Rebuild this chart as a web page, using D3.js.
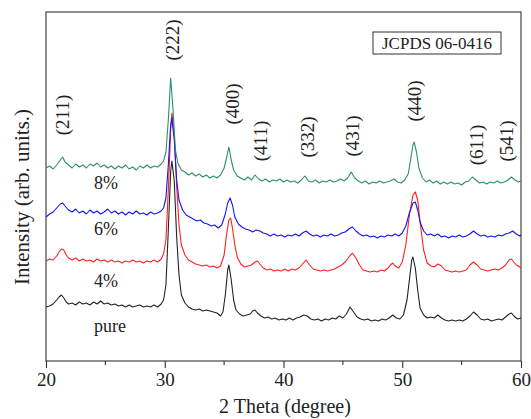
<!DOCTYPE html>
<html>
<head>
<meta charset="utf-8">
<script src="https://cdn.jsdelivr.net/npm/d3@7"></script>
<style>
  body { margin: 0; background: #fff; }
  svg { display: block; font-family: "Liberation Serif", "Times New Roman", serif; }
</style>
</head>
<body>
<div id="chart"></div>
<script>
// XRD patterns, [2theta, intensity (a.u., offset already applied)]
const pure = [[20.0,54],[20.3,55],[20.6,57],[20.9,61],[21.1,64],[21.3,66],[21.5,63],[21.7,59],[21.9,57],[22.2,58],[22.5,56],[22.8,59],[23.1,57],[23.4,58],[23.7,56],[24.0,59],[24.3,57],[24.6,60],[24.9,57],[25.2,58],[25.5,56],[25.8,57],[26.1,55],[26.4,56],[26.7,54],[27.0,56],[27.3,54],[27.6,55],[27.9,56],[28.2,54],[28.5,55],[28.8,54],[29.1,56],[29.4,54],[29.7,57],[29.9,61],[30.1,76],[30.3,131],[30.5,190],[30.6,200],[30.8,180],[31.0,125],[31.2,86],[31.4,66],[31.7,58],[32.0,54],[32.3,52],[32.6,51],[32.9,52],[33.2,50],[33.5,51],[33.8,50],[34.1,49],[34.4,48],[34.7,45],[34.9,49],[35.1,66],[35.3,91],[35.4,96],[35.6,81],[35.8,61],[36.0,51],[36.3,47],[36.6,45],[36.9,46],[37.2,47],[37.4,50],[37.6,51],[37.8,48],[38.1,45],[38.4,43],[38.7,44],[39.0,42],[39.3,43],[39.6,41],[39.9,42],[40.2,41],[40.5,43],[40.8,41],[41.1,43],[41.4,44],[41.7,46],[42.0,45],[42.3,42],[42.6,41],[42.9,42],[43.2,40],[43.5,42],[43.8,41],[44.1,43],[44.4,42],[44.7,45],[45.0,43],[45.3,47],[45.6,54],[45.9,49],[46.2,44],[46.5,42],[46.8,41],[47.1,42],[47.4,40],[47.7,41],[48.0,40],[48.3,42],[48.6,41],[48.9,43],[49.2,46],[49.5,43],[49.8,42],[50.1,46],[50.4,61],[50.6,81],[50.8,101],[50.9,104],[51.1,93],[51.3,71],[51.5,53],[51.8,46],[52.1,43],[52.4,44],[52.7,43],[53.0,46],[53.3,43],[53.6,41],[53.9,40],[54.2,41],[54.5,40],[54.8,41],[55.1,40],[55.4,42],[55.7,45],[56.0,49],[56.3,46],[56.6,42],[56.9,41],[57.2,42],[57.5,40],[57.8,41],[58.1,42],[58.4,41],[58.7,44],[59.0,47],[59.2,48],[59.4,45],[59.7,42],[60.0,43]];

const dop4 = [[20.0,100],[20.3,102],[20.6,101],[20.9,105],[21.1,109],[21.3,112],[21.5,111],[21.7,106],[21.9,103],[22.2,101],[22.5,103],[22.8,100],[23.1,102],[23.4,100],[23.7,101],[24.0,99],[24.3,102],[24.6,100],[24.9,101],[25.2,99],[25.5,101],[25.8,99],[26.1,100],[26.4,98],[26.7,100],[27.0,99],[27.3,101],[27.6,99],[27.9,100],[28.2,98],[28.5,100],[28.8,99],[29.1,101],[29.4,99],[29.7,102],[29.9,107],[30.1,121],[30.3,171],[30.5,231],[30.6,248],[30.8,226],[31.0,176],[31.2,136],[31.4,116],[31.7,106],[32.0,101],[32.3,99],[32.6,97],[32.9,96],[33.2,95],[33.5,96],[33.8,94],[34.1,95],[34.4,93],[34.7,95],[35.0,106],[35.2,126],[35.4,141],[35.55,143],[35.7,133],[35.9,116],[36.1,104],[36.4,97],[36.7,94],[37.0,95],[37.3,96],[37.6,99],[37.8,100],[38.0,97],[38.3,93],[38.6,91],[38.9,92],[39.2,90],[39.5,91],[39.8,90],[40.1,92],[40.4,90],[40.7,92],[41.0,91],[41.3,93],[41.6,97],[41.9,101],[42.2,96],[42.5,92],[42.8,91],[43.1,90],[43.4,91],[43.7,90],[44.0,91],[44.3,92],[44.6,94],[44.9,96],[45.2,99],[45.5,104],[45.8,108],[46.1,103],[46.4,96],[46.7,91],[47.0,90],[47.3,89],[47.6,90],[47.9,89],[48.2,91],[48.5,90],[48.8,93],[49.0,96],[49.2,98],[49.4,95],[49.7,93],[50.0,99],[50.3,116],[50.6,146],[50.9,166],[51.1,169],[51.3,161],[51.5,139],[51.8,111],[52.1,98],[52.4,95],[52.7,94],[53.0,97],[53.3,95],[53.6,91],[53.9,90],[54.2,89],[54.5,90],[54.8,89],[55.1,90],[55.4,91],[55.7,96],[56.0,99],[56.3,96],[56.6,92],[56.9,91],[57.2,90],[57.5,91],[57.8,92],[58.1,91],[58.4,93],[58.7,96],[59.0,101],[59.2,102],[59.4,99],[59.6,96],[59.8,95],[60.0,93]];

const dop6 = [[20.0,144],[20.3,147],[20.6,149],[20.9,153],[21.2,157],[21.4,158],[21.6,155],[21.9,151],[22.2,149],[22.5,152],[22.8,148],[23.1,150],[23.4,147],[23.7,151],[24.0,148],[24.3,150],[24.6,147],[24.9,149],[25.2,152],[25.5,148],[25.8,150],[26.1,147],[26.4,149],[26.7,146],[27.0,149],[27.3,147],[27.6,150],[27.9,147],[28.2,148],[28.5,146],[28.8,149],[29.1,147],[29.4,148],[29.7,150],[29.9,153],[30.1,163],[30.3,196],[30.5,236],[30.6,243],[30.8,221],[31.0,181],[31.2,161],[31.5,151],[31.8,146],[32.1,144],[32.4,142],[32.7,140],[33.0,141],[33.3,138],[33.6,137],[33.9,135],[34.2,136],[34.5,133],[34.8,136],[35.1,147],[35.3,158],[35.5,163],[35.7,156],[35.9,144],[36.2,137],[36.5,134],[36.8,132],[37.1,131],[37.4,129],[37.7,131],[38.0,130],[38.3,128],[38.6,127],[38.9,125],[39.2,127],[39.5,125],[39.8,126],[40.1,124],[40.4,126],[40.7,125],[41.0,127],[41.3,125],[41.6,128],[41.9,130],[42.2,127],[42.5,125],[42.8,126],[43.1,124],[43.4,126],[43.7,125],[44.0,127],[44.3,125],[44.6,126],[44.9,128],[45.2,129],[45.5,132],[45.8,134],[46.1,130],[46.4,127],[46.7,125],[47.0,126],[47.3,124],[47.6,125],[47.9,123],[48.2,125],[48.5,124],[48.8,126],[49.1,125],[49.4,127],[49.7,125],[50.0,128],[50.3,135],[50.6,148],[50.9,158],[51.1,159],[51.3,151],[51.5,139],[51.8,130],[52.1,126],[52.4,127],[52.7,125],[53.0,127],[53.3,124],[53.6,125],[53.9,123],[54.2,125],[54.5,124],[54.8,126],[55.1,124],[55.4,125],[55.7,127],[56.0,130],[56.3,127],[56.6,125],[56.9,126],[57.2,124],[57.5,125],[57.8,124],[58.1,126],[58.4,125],[58.7,127],[59.0,128],[59.3,130],[59.6,127],[59.9,125],[60.0,126]];

const dop8 = [[20.0,193],[20.3,195],[20.6,192],[20.9,196],[21.2,201],[21.4,204],[21.6,199],[21.9,196],[22.2,193],[22.5,197],[22.8,194],[23.1,196],[23.4,193],[23.7,197],[24.0,195],[24.3,198],[24.6,194],[24.9,196],[25.2,193],[25.5,195],[25.8,192],[26.1,195],[26.4,193],[26.7,196],[27.0,192],[27.3,194],[27.6,191],[27.9,195],[28.2,193],[28.5,196],[28.8,193],[29.1,195],[29.4,194],[29.7,197],[29.9,200],[30.1,209],[30.3,241],[30.5,283],[30.7,251],[30.9,211],[31.1,198],[31.4,191],[31.7,189],[32.0,186],[32.3,188],[32.6,185],[32.9,187],[33.2,184],[33.5,186],[33.8,183],[34.1,185],[34.4,183],[34.7,186],[35.0,193],[35.2,203],[35.4,214],[35.6,201],[35.8,191],[36.1,185],[36.4,183],[36.7,181],[37.0,184],[37.3,181],[37.6,186],[37.9,182],[38.2,180],[38.5,182],[38.8,179],[39.1,181],[39.4,180],[39.7,182],[40.0,179],[40.3,181],[40.6,179],[40.9,180],[41.2,178],[41.5,181],[41.8,185],[42.1,180],[42.4,179],[42.7,181],[43.0,178],[43.3,180],[43.6,179],[43.9,181],[44.2,179],[44.5,180],[44.8,182],[45.1,180],[45.4,183],[45.7,189],[46.0,183],[46.3,180],[46.6,178],[46.9,180],[47.2,177],[47.5,179],[47.8,178],[48.1,180],[48.4,178],[48.7,179],[49.0,180],[49.3,182],[49.6,179],[49.9,178],[50.2,181],[50.5,187],[50.7,201],[50.9,216],[51.0,219],[51.2,209],[51.4,193],[51.7,183],[52.0,179],[52.3,181],[52.6,178],[52.9,180],[53.2,177],[53.5,179],[53.8,177],[54.1,179],[54.4,177],[54.7,178],[55.0,176],[55.3,179],[55.6,180],[55.9,184],[56.2,181],[56.5,178],[56.8,179],[57.1,177],[57.4,179],[57.7,178],[58.0,180],[58.3,178],[58.6,179],[58.9,181],[59.2,184],[59.5,181],[59.8,179],[60.0,180]];

const seriesNames = ['pure', '4%', '6%', '8%'];
const seriesData = [pure, dop4, dop6, dop8];
const seriesColors = ['#222222', '#ff1f1f', '#1414f0', '#2b8f73'];

const hklLabels = ['(211)', '(222)', '(400)', '(411)', '(332)', '(431)', '(440)', '(611)', '(541)'];
const hklTheta = [21.4, 30.7, 35.75, 38.1, 42.0, 45.85, 51.05, 56.3, 58.8];
const hklLift = [246, 321, 257, 220, 224, 225, 260, 216, 220];   // label centre height

const xTicks = [20, 30, 40, 50, 60];
const xMinor = [25, 35, 45, 55];

const width = 531, height = 419;
const margin = { top: 12, right: 10, bottom: 58, left: 46 };
const innerW = width - margin.left - margin.right;
const innerH = height - margin.top - margin.bottom;

const svg = d3.select('#chart').append('svg')
  .attr('width', width).attr('height', height);

const g = svg.append('g').attr('transform', `translate(${margin.left},${margin.top})`);

const x = d3.scaleLinear().domain([20, 60]).range([0, innerW]);
const y = d3.scaleLinear().domain([0, innerH]).range([innerH, 0]);

// frame
g.append('rect')
  .attr('width', innerW).attr('height', innerH)
  .attr('fill', 'none').attr('stroke', '#333').attr('stroke-width', 1.1);

// patterns
const line = d3.line().x(d => x(d[0])).y(d => y(d[1]));
seriesData.forEach((s, i) => {
  g.append('path')
    .datum(s)
    .attr('d', line)
    .attr('fill', 'none')
    .attr('stroke', seriesColors[i])
    .attr('stroke-width', 1.1)
    .attr('stroke-linejoin', 'round');
});

// bottom axis, ticks outward
const xAxis = d3.axisBottom(x).tickValues(xTicks).tickSize(7).tickPadding(5).tickFormat(d3.format('d'));
const ax = g.append('g').attr('transform', `translate(0,${innerH})`).call(xAxis);
ax.select('.domain').remove();
ax.selectAll('line').attr('stroke', '#333').attr('stroke-width', 1.1);
ax.selectAll('text').attr('font-size', 19).attr('fill', '#222')
  .attr('font-family', '"Liberation Serif", serif');
g.append('g').selectAll('line').data(xMinor).join('line')
  .attr('x1', d => x(d)).attr('x2', d => x(d))
  .attr('y1', innerH).attr('y2', innerH + 4)
  .attr('stroke', '#333').attr('stroke-width', 1.1);

// hkl labels
g.selectAll('text.hkl').data(hklLabels).join('text')
  .attr('class', 'hkl')
  .attr('transform', (d, i) => `translate(${x(hklTheta[i])},${y(hklLift[i])}) rotate(-90)`)
  .attr('text-anchor', 'middle').attr('dy', '0.33em')
  .attr('font-size', 19).attr('fill', '#222')
  .text(d => d);

// series labels
const seriesLabelY = [332, 287, 235, 189];
g.selectAll('text.sname').data(seriesNames).join('text')
  .attr('class', 'sname')
  .attr('x', (d, i) => i === 0 ? 64 : 60)
  .attr('y', (d, i) => seriesLabelY[i] - margin.top)
  .attr('text-anchor', 'middle')
  .attr('font-size', 18).attr('fill', '#222')
  .text(d => d);

// reference box
const box = g.append('g').attr('transform', `translate(${373 - margin.left},${32 - margin.top})`);
box.append('rect').attr('width', 128).attr('height', 22)
  .attr('fill', '#fff').attr('stroke', '#333').attr('stroke-width', 1);
box.append('text').attr('x', 64).attr('y', 16.5).attr('text-anchor', 'middle')
  .attr('font-size', 17).attr('fill', '#222').text('JCPDS 06-0416');

// axis titles
svg.append('text')
  .attr('x', 285).attr('y', 413)
  .attr('text-anchor', 'middle').attr('font-size', 20).attr('fill', '#222')
  .text('2 Theta (degree)');
svg.append('text')
  .attr('transform', 'translate(29,197) rotate(-90)')
  .attr('text-anchor', 'middle').attr('font-size', 21).attr('fill', '#222')
  .text('Intensity (arb. units.)');
</script>
</body>
</html>
